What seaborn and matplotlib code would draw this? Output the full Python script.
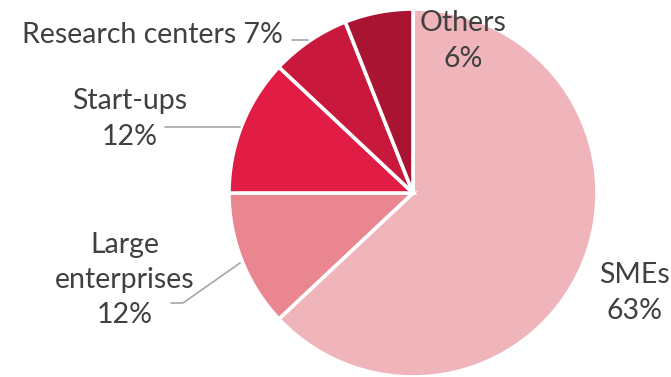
import matplotlib
matplotlib.use("Agg")
import matplotlib.pyplot as plt
import seaborn as sns

categories = ["SMEs", "Large\nenterprises", "Start-ups", "Research centers", "Others"]
values = [63, 12, 12, 7, 6]
colors = ["#F0B5BA", "#E9868F", "#E11D45", "#C8193D", "#A91432"]

sns.set_style("white")
plt.rcParams['font.family'] = ['Lato', 'DejaVu Sans']

W, H = 671, 377
fig = plt.figure(figsize=(W / 100, H / 100), dpi=100)
ax = fig.add_axes([0, 0, 1, 1])

cx, cy, r = 413, H - 193, 184
ax.pie(values, colors=colors, startangle=90, counterclock=False,
       center=(cx, cy), radius=r,
       wedgeprops=dict(edgecolor='white', linewidth=2.6), frame=False)
ax.set_xlim(0, W)
ax.set_ylim(0, H)
ax.set_aspect('equal')
ax.axis('off')

tc = "#404040"
fs = 20.5
ls = 1.45

def lbl(text, x, y, ha='center'):
    ax.text(x, H - y, text, ha=ha, va='center', fontsize=fs, color=tc,
            linespacing=ls, multialignment='center')

lbl(f"{categories[4]}\n{values[4]}%", 463, 41)
lbl(f"{categories[3]} {values[3]}%", 152, 35)
lbl(f"{categories[2]}\n{values[2]}%", 130, 119)
lbl(f"{categories[1]}\n{values[1]}%", 125, 280)
lbl(f"{categories[0]}\n{values[0]}%", 635, 293)

lc = "#A6A6A6"
ax.plot([292, 308], [H - 40, H - 40], color=lc, lw=1.2)
ax.plot([165, 240], [H - 127, H - 127], color=lc, lw=1.2)
ax.plot([171, 183, 240], [H - 303, H - 303, H - 263], color=lc, lw=1.2)

fig.savefig("out.png", dpi=100)
